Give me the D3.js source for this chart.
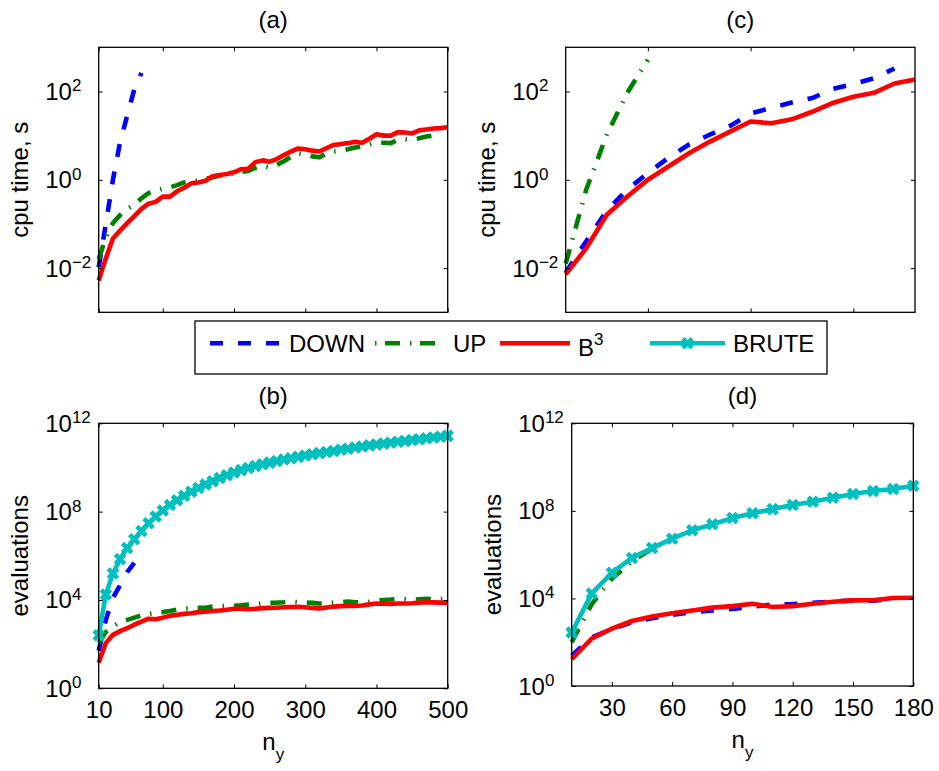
<!DOCTYPE html>
<html>
<head>
<meta charset="utf-8">
<script src="https://cdn.jsdelivr.net/npm/d3@7"></script>
<style>
  body { margin: 0; background: #fff; }
  text { font-family: "Liberation Sans", Arial, sans-serif; fill: #000; }
</style>
</head>
<body>
<div id="chart"></div>
<script>
// n_y values used in panels (a),(b) and (c),(d)
const ny500 = [10, 20, 30, 40, 50, 60, 70, 80, 90, 100, 110, 120, 130, 140, 150, 160, 170, 180, 190, 200,
  210, 220, 230, 240, 250, 260, 270, 280, 290, 300, 310, 320, 330, 340, 350, 360, 370, 380, 390, 400,
  410, 420, 430, 440, 450, 460, 470, 480, 490, 500];
const ny180 = [10, 20, 30, 40, 50, 60, 70, 80, 90, 100, 110, 120, 130, 140, 150, 160, 170, 180];

// values are log10 of what was read off the picture
// (a) cpu time, s
const cpuA_down = [-1.98, -1.0, 0.0, 0.85, 1.45, 2.05, 2.42];
const cpuA_up = [-1.8, -1.3, -0.98, -0.8, -0.66, -0.56, -0.42, -0.3, -0.24, -0.2,
  -0.17, -0.12, -0.06, -0.02, -0.02, 0.02, 0.06, 0.09, 0.12, 0.15,
  0.18, 0.2, 0.27, 0.32, 0.28, 0.34, 0.42, 0.52, 0.6, 0.58,
  0.53, 0.51, 0.6, 0.64, 0.66, 0.69, 0.73, 0.76, 0.8, 0.84,
  0.84, 0.83, 0.9, 0.92, 0.9, 0.94, 0.98, 1.0, 1.03];
const cpuA_b3 = [-2.28, -1.78, -1.33, -1.15, -0.98, -0.82, -0.66, -0.54, -0.5, -0.38,
  -0.38, -0.26, -0.18, -0.08, -0.06, -0.02, 0.08, 0.11, 0.13, 0.17,
  0.24, 0.25, 0.4, 0.44, 0.41, 0.47, 0.56, 0.64, 0.71, 0.69,
  0.66, 0.64, 0.72, 0.79, 0.81, 0.83, 0.86, 0.84, 0.93, 1.03,
  1.0, 1.0, 1.08, 1.07, 1.05, 1.12, 1.14, 1.16, 1.17, 1.19];

// (c) cpu time, s
const cpuC_down = [-2.1, -1.39, -0.7, -0.22, 0.15, 0.5, 0.8, 1.02, 1.22, 1.5, 1.63, 1.75, 1.85, 2.06, 2.17, 2.3, 2.52];
const cpuC_up = [-1.9, -0.22, 1.02, 1.97, 2.72];
const cpuC_b3 = [-2.14, -1.55, -0.79, -0.38, 0.0, 0.3, 0.6, 0.86, 1.09, 1.32, 1.28, 1.37, 1.54, 1.74, 1.88, 1.97, 2.18, 2.27];

// (b) evaluations
const evalB_down = [1.7, 3.1, 4.1, 4.67, 5.26, 5.68];
const evalB_up = [2.06, 2.55, 2.8, 3.0, 3.1, 3.2, 3.3, 3.36, 3.42, 3.45,
  3.5, 3.56, 3.6, 3.63, 3.64, 3.65, 3.7, 3.72, 3.72, 3.74,
  3.76, 3.79, 3.81, 3.85, 3.87, 3.88, 3.9, 3.93, 3.9, 3.88,
  3.87, 3.84, 3.84, 3.88, 3.9, 3.93, 3.9, 3.88, 3.92, 3.97,
  4.0, 4.02, 4.05, 4.03, 4.0, 4.03, 4.05, 4.03, 4.04, 4.05];
const evalB_b3 = [1.16, 2.05, 2.42, 2.59, 2.72, 2.88, 3.02, 3.15, 3.13, 3.2,
  3.28, 3.33, 3.37, 3.4, 3.45, 3.47, 3.5, 3.52, 3.56, 3.6,
  3.6, 3.58, 3.6, 3.63, 3.64, 3.65, 3.67, 3.68, 3.69, 3.67,
  3.64, 3.62, 3.66, 3.7, 3.72, 3.73, 3.73, 3.75, 3.8, 3.84,
  3.83, 3.82, 3.84, 3.84, 3.85, 3.88, 3.9, 3.89, 3.88, 3.88];
const evalB_brute = [2.4, 4.25, 5.2, 5.85, 6.35, 6.75, 7.12, 7.47, 7.78, 8.05,
  8.3, 8.52, 8.72, 8.9, 9.07, 9.23, 9.38, 9.52, 9.65, 9.77,
  9.88, 9.98, 10.07, 10.15, 10.22, 10.29, 10.36, 10.42, 10.48, 10.54,
  10.6, 10.65, 10.7, 10.75, 10.8, 10.85, 10.9, 10.95, 11.0, 11.04,
  11.08, 11.12, 11.16, 11.2, 11.24, 11.28, 11.32, 11.36, 11.39, 11.43];

// (d) evaluations
const evalD_down = [1.38, 2.22, 2.6, 2.92, 3.1, 3.25, 3.38, 3.45, 3.52, 3.62, 3.72, 3.74, 3.8, 3.86, 3.9, 3.9, 3.98];
const evalD_up = [2.0, 3.75, 4.9, 5.7, 6.28];
const evalD_b3 = [1.23, 2.17, 2.62, 2.97, 3.17, 3.32, 3.45, 3.58, 3.65, 3.76, 3.61, 3.65, 3.76, 3.85, 3.91, 3.92, 4.02, 4.03];
const evalD_brute = [2.44, 4.23, 5.17, 5.85, 6.3, 6.73, 7.11, 7.39, 7.67, 7.89, 8.08, 8.27, 8.42, 8.6, 8.77, 8.91, 9.0, 9.15];

// ticks
const xTicks500 = [10, 100, 200, 300, 400, 500];
const xTicksC = [50, 100, 150];
const xTicksD = [30, 60, 90, 120, 150, 180];
const cpuTickExp = [-2, 0, 2];
const evalTickExp = [0, 4, 8, 12];

const width = 939;
const height = 771;

const styles = {
  down: {color: '#0000ff', dash: '13,15'},
  up: {color: '#008000', dash: '15,10,1.5,10'},
  b3: {color: '#ff0000', dash: null},
  brute: {color: '#00bfbf', dash: null, marker: true}
};

const panels = [
  {title: '(a)', box: {left: 98.7, right: 447.7, top: 47.3, bottom: 312.3}, xd: [10, 500], yd: [1e-3, 1e3],
    xTicks: xTicks500, xLabels: false, yExp: cpuTickExp, ylabel: 'cpu time, s',
    series: [['down', ny500, cpuA_down], ['up', ny500, cpuA_up], ['b3', ny500, cpuA_b3]]},
  {title: '(c)', box: {left: 565.7, right: 915, top: 47.3, bottom: 312.3}, xd: [10, 180], yd: [1e-3, 1e3],
    xTicks: xTicksC, xLabels: false, yExp: cpuTickExp, ylabel: 'cpu time, s',
    series: [['down', ny180, cpuC_down], ['up', ny180, cpuC_up], ['b3', ny180, cpuC_b3]]},
  {title: '(b)', box: {left: 98.7, right: 447.7, top: 423.3, bottom: 688.3}, xd: [10, 500], yd: [1, 1e12],
    xTicks: xTicks500, xLabels: true, yExp: evalTickExp, ylabel: 'evaluations',
    series: [['down', ny500, evalB_down], ['up', ny500, evalB_up], ['b3', ny500, evalB_b3], ['brute', ny500, evalB_brute]]},
  {title: '(d)', box: {left: 571.7, right: 913.3, top: 423.3, bottom: 686}, xd: [10, 180], yd: [1, 1e12],
    xTicks: xTicksD, xLabels: true, yExp: evalTickExp, ylabel: 'evaluations',
    series: [['down', ny180, evalD_down], ['up', ny180, evalD_up], ['b3', ny180, evalD_b3], ['brute', ny180, evalD_brute]]}
];

const svg = d3.select('#chart')
  .append('svg')
  .attr('width', width)
  .attr('height', height)
  .attr('viewBox', [0, 0, width, height]);

const markerPath = d3.symbol(d3.symbolX, 58)();

function drawSeries(g, key, pts, x, y) {
  const st = styles[key];
  const line = d3.line().x(d => x(d[0])).y(d => y(d[1]));
  g.append('path')
    .datum(pts)
    .attr('fill', 'none')
    .attr('stroke', st.color)
    .attr('stroke-width', 4.6)
    .attr('stroke-linejoin', 'round')
    .attr('stroke-dasharray', st.dash)
    .attr('d', line);
  if (st.marker) {
    g.selectAll(null)
      .data(pts)
      .join('path')
      .attr('transform', d => `translate(${x(d[0])},${y(d[1])})`)
      .attr('d', markerPath)
      .attr('fill', 'none')
      .attr('stroke', st.color)
      .attr('stroke-width', 4.6);
  }
}

function expText(d) {
  return d < 0 ? '\u2212' + (-d) : String(d);
}

panels.forEach(p => {
  const b = p.box;
  const x = d3.scaleLinear().domain(p.xd).range([b.left, b.right]);
  const y = d3.scaleLog().domain(p.yd).range([b.bottom, b.top]);
  const g = svg.append('g');

  // series
  const lines = g.append('g');
  p.series.forEach(([key, xs, vals]) => {
    const pts = vals.map((v, i) => [xs[i], 10 ** v]);
    drawSeries(lines, key, pts, x, y);
  });

  // axes (inward ticks on all four sides)
  const tickStyle = ax => {
    ax.select('.domain').remove();
    ax.selectAll('.tick line').attr('stroke', '#000').attr('stroke-width', 1);
    ax.attr('font-family', '"Liberation Sans", Arial, sans-serif').attr('font-size', 24);
  };
  const yVals = p.yExp.map(e => 10 ** e);

  g.append('g')
    .attr('transform', `translate(0,${b.bottom})`)
    .call(d3.axisBottom(x).tickValues(p.xTicks).tickSize(-4).tickPadding(13)
      .tickFormat(p.xLabels ? d3.format('d') : () => ''))
    .call(tickStyle);
  g.append('g')
    .attr('transform', `translate(0,${b.top})`)
    .call(d3.axisTop(x).tickValues(p.xTicks).tickSize(-4).tickFormat(() => ''))
    .call(tickStyle);
  g.append('g')
    .attr('transform', `translate(${b.left},0)`)
    .call(d3.axisLeft(y).tickValues(yVals).tickSize(-4).tickFormat(() => ''))
    .call(tickStyle);
  g.append('g')
    .attr('transform', `translate(${b.right},0)`)
    .call(d3.axisRight(y).tickValues(yVals).tickSize(-4).tickFormat(() => ''))
    .call(tickStyle);

  // y tick labels 10^k
  g.append('g')
    .selectAll('text')
    .data(p.yExp)
    .join('text')
    .attr('x', b.left - 53.5)
    .attr('y', d => y(10 ** d) + 8.5)
    .attr('font-size', 24)
    .text('10')
    .append('tspan')
    .attr('font-size', 17)
    .attr('dy', -8.5)
    .text(expText);

  // frame
  g.append('rect')
    .attr('x', b.left).attr('y', b.top)
    .attr('width', b.right - b.left).attr('height', b.bottom - b.top)
    .attr('fill', 'none').attr('stroke', '#000').attr('stroke-width', 1.3);

  // title
  g.append('text')
    .attr('x', (b.left + b.right) / 2)
    .attr('y', b.top - 19)
    .attr('text-anchor', 'middle')
    .attr('font-size', 24)
    .text(p.title);

  // y label
  g.append('text')
    .attr('transform', `translate(${b.left - 71},${(b.top + b.bottom) / 2}) rotate(-90)`)
    .attr('text-anchor', 'middle')
    .attr('font-size', 24)
    .text(p.ylabel);

  // x label n_y
  if (p.xLabels) {
    const t = g.append('text')
      .attr('x', (b.left + b.right) / 2)
      .attr('y', b.bottom + 61.5)
      .attr('text-anchor', 'middle')
      .attr('font-size', 24);
    t.append('tspan').text('n');
    t.append('tspan').attr('font-size', 17).attr('dy', 10).text('y');
  }
});

// legend
const legend = svg.append('g');
legend.append('rect')
  .attr('x', 195).attr('y', 321).attr('width', 632).attr('height', 53)
  .attr('fill', '#fff').attr('stroke', '#000').attr('stroke-width', 1.3);

const legendItems = [
  {key: 'down', x0: 210, x1: 280, tx: 289, label: 'DOWN'},
  {key: 'up', x0: 375, x1: 444, tx: 453, label: 'UP'},
  {key: 'b3', x0: 500, x1: 570, tx: 578, label: 'B'},
  {key: 'brute', x0: 650, x1: 725, tx: 733, label: 'BRUTE'}
];
const ly = 343.3;
legendItems.forEach(it => {
  const st = styles[it.key];
  legend.append('line')
    .attr('x1', it.x0).attr('x2', it.x1).attr('y1', ly).attr('y2', ly)
    .attr('stroke', st.color).attr('stroke-width', 4.6)
    .attr('stroke-dasharray', it.key === 'up' ? '1.5,8.5,15,10' : st.dash);
  if (st.marker) {
    legend.append('path')
      .attr('transform', `translate(${(it.x0 + it.x1) / 2},${ly})`)
      .attr('d', markerPath)
      .attr('fill', 'none').attr('stroke', st.color).attr('stroke-width', 4.6);
  }
  const t = legend.append('text')
    .attr('x', it.tx)
    .attr('y', it.key === 'b3' ? 355.5 : 351.7)
    .attr('font-size', 24)
    .text(it.label);
  if (it.key === 'b3') {
    t.append('tspan').attr('font-size', 17).attr('dy', -10.5).text('3');
  }
});
</script>
</body>
</html>
